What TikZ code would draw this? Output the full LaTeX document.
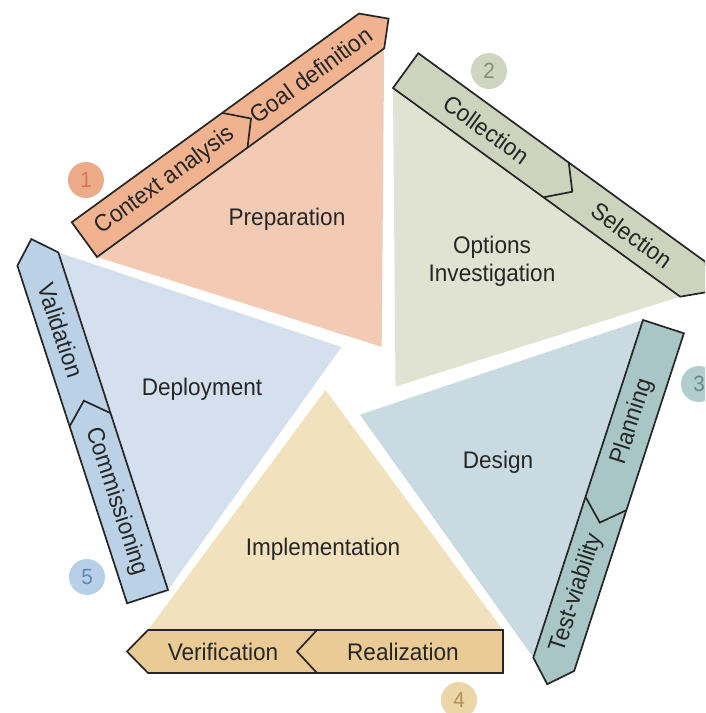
\documentclass[tikz,border=0pt]{standalone}
\usepackage{fontspec}
\setmainfont{Liberation Sans}[FakeStretch=0.94]
\definecolor{t1}{RGB}{243,203,180}
\definecolor{b1}{RGB}{240,178,143}
\definecolor{c1}{RGB}{237,170,136}
\definecolor{n1}{RGB}{214,118,84}
\definecolor{t2}{RGB}{224,226,210}
\definecolor{b2}{RGB}{206,211,189}
\definecolor{c2}{RGB}{208,213,194}
\definecolor{n2}{RGB}{132,142,112}
\definecolor{t3}{RGB}{201,219,225}
\definecolor{b3}{RGB}{168,198,198}
\definecolor{c3}{RGB}{178,205,205}
\definecolor{n3}{RGB}{100,140,140}
\definecolor{t4}{RGB}{242,225,189}
\definecolor{b4}{RGB}{234,203,150}
\definecolor{c4}{RGB}{236,213,167}
\definecolor{n4}{RGB}{180,146,92}
\definecolor{t5}{RGB}{212,224,237}
\definecolor{b5}{RGB}{187,209,230}
\definecolor{c5}{RGB}{183,207,233}
\definecolor{n5}{RGB}{96,136,180}
\begin{document}
\begin{tikzpicture}[x=1pt,y=1pt,
  bandline/.style={draw=black!85, line width=1.7pt},
  lbl/.style={font=\fontsize{24}{28}\selectfont, text=black!85, inner sep=0pt, align=center},
  num/.style={circle, minimum size=36pt, inner sep=0pt, font=\fontsize{22}{24}\selectfont}]
\useasboundingbox (0,0) rectangle (705,-713);
\clip (0,0) rectangle (705,-713);
% unit 1
\begin{scope}[shift={(97,-257)}, rotate=36]
  \fill[t1] (0,0) -- (355,0) -- (177.5,-240) -- cycle;
  \draw[bandline, fill=b1] (0,0) -- (355,0) -- (376,21.5) -- (355,43) -- (0,43) -- cycle;
  \draw[bandline] (186,0) -- (206,21.5) -- (186,43);
  \node[lbl, rotate=36] (ctx) at (100,21.5) {Context analysis};
  \node[lbl, rotate=36] (goal) at (280,21.5) {Goal definition};
\end{scope}
% unit 2
\begin{scope}[shift={(393,-88)}, rotate=-36]
  \fill[t2] (0,0) -- (355,0) -- (177.5,-240) -- cycle;
  \draw[bandline, fill=b2] (0,0) -- (355,0) -- (376,21.5) -- (355,43) -- (0,43) -- cycle;
  \draw[bandline] (186,0) -- (206,21.5) -- (186,43);
  \node[lbl, rotate=-36] (coll) at (100,21.5) {Collection};
  \node[lbl, rotate=-36] (sel) at (280,21.5) {Selection};
\end{scope}
% unit 3
\begin{scope}[shift={(643,-320)}, rotate=-108]
  \fill[t3] (0,0) -- (355,0) -- (177.5,-240) -- cycle;
  \draw[bandline, fill=b3] (0,0) -- (355,0) -- (376,21.5) -- (355,43) -- (0,43) -- cycle;
  \draw[bandline] (186,0) -- (206,21.5) -- (186,43);
  \node[lbl, rotate=72] (plan) at (100,21.5) {Planning};
  \node[lbl, rotate=72] (test) at (280,21.5) {Test-viability};
\end{scope}
% unit 4
\begin{scope}[shift={(503,-630)}, rotate=180]
  \fill[t4] (0,0) -- (355,0) -- (177.5,-240) -- cycle;
  \draw[bandline, fill=b4] (0,0) -- (355,0) -- (376,21.5) -- (355,43) -- (0,43) -- cycle;
  \draw[bandline] (186,0) -- (206,21.5) -- (186,43);
  \node[lbl] (real) at (100,21.5) {Realization};
  \node[lbl] (veri) at (280,21.5) {Verification};
\end{scope}
% unit 5
\begin{scope}[shift={(168,-590)}, rotate=108]
  \fill[t5] (0,0) -- (355,0) -- (177.5,-240) -- cycle;
  \draw[bandline, fill=b5] (0,0) -- (355,0) -- (376,21.5) -- (355,43) -- (0,43) -- cycle;
  \draw[bandline] (186,0) -- (206,21.5) -- (186,43);
  \node[lbl, rotate=-72] (comm) at (100,21.5) {Commissioning};
  \node[lbl, rotate=-72] (vali) at (280,21.5) {Validation};
\end{scope}
% triangle labels
\node[lbl] (prep) at (287,-219) {Preparation};
\node[lbl] (opt) at (492,-261) {Options\\Investigation};
\node[lbl] (des) at (498,-462) {Design};
\node[lbl] (impl) at (323,-549) {Implementation};
\node[lbl] (depl) at (202,-389) {Deployment};
% number circles
\node[num, fill=c1, text=n1] (k1) at (86,-180) {1};
\node[num, fill=c2, text=n2] (k2) at (489,-71) {2};
\node[num, fill=c3, text=n3] (k3) at (699,-384) {3};
\node[num, fill=c4, text=n4] (k4) at (459,-700) {4};
\node[num, fill=c5, text=n5] (k5) at (87,-577) {5};
\end{tikzpicture}
\end{document}
